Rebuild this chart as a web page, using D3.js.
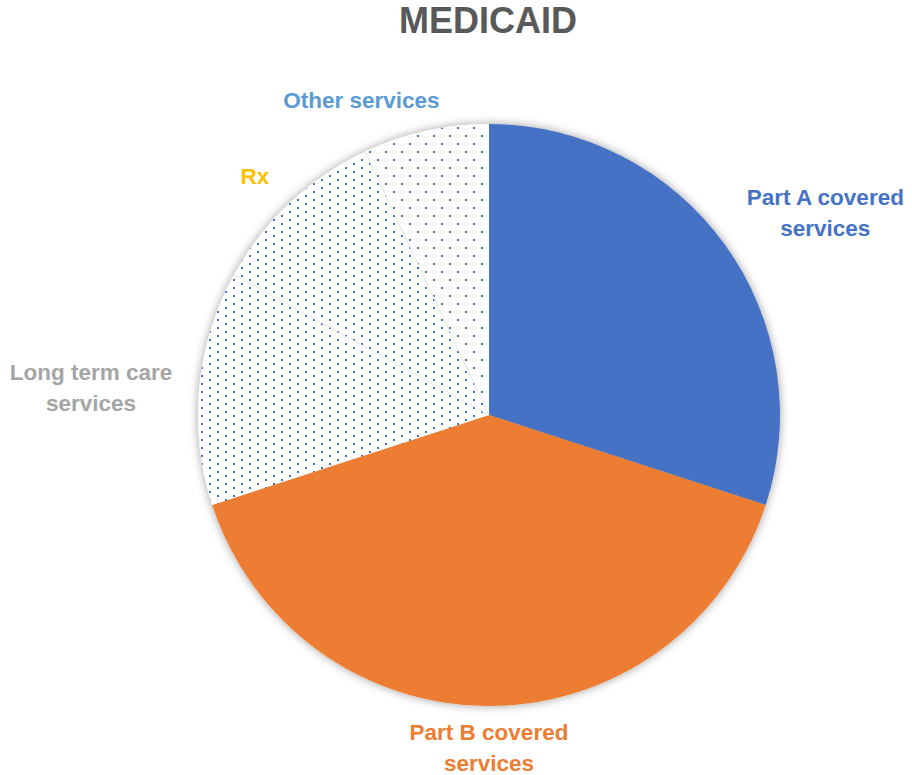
<!DOCTYPE html>
<html>
<head>
<meta charset="utf-8">
<script src="https://cdn.jsdelivr.net/npm/d3@7"></script>
<style>
  html, body { margin: 0; padding: 0; background: #fff; }
  svg { display: block; }
  text { font-family: "Liberation Sans", Arial, sans-serif; font-weight: bold; }
</style>
</head>
<body>
<script>
// Medicaid spending split by service type (percent of total)
const categories = ["Part A covered services", "Part B covered services", "Long term care services", "Rx", "Other services"];
const shares = [30, 40, 13, 10, 7];
const chartTitle = "MEDICAID";

// Fill style per slice: solid colour or a dotted pattern id
const sliceFills = ["#4472C4", "#ED7D31", "url(#dotsDense)", "url(#dotsDense)", "url(#dotsSparse)"];
const labelColors = ["#4472C4", "#ED7D31", "#A5A5A5", "#FFC000", "#5B9BD5"];
// small hand adjustments to the outside-end label boxes
const labelNudge = [[11, 0], [0, 4], [-13, 1], [-11, -9], [-61, -9]];

const W = 912, H = 775;
const cx = 489, cy = 415, radius = 291;
const fontSize = 22.5, lineGap = 31, capH = 16, wrapWidth = 170;

const svg = d3.select("body").append("svg").attr("width", W).attr("height", H);
const defs = svg.append("defs");

// dotted fills
function dotPattern(id, w, h) {
  const p = defs.append("pattern").attr("id", id).attr("patternUnits", "userSpaceOnUse")
    .attr("width", w).attr("height", h);
  p.append("rect").attr("width", w).attr("height", h).attr("fill", "#fff");
  p.append("rect").attr("x", 0).attr("y", 0).attr("width", 2).attr("height", 2).attr("fill", "#4472C4");
  p.append("rect").attr("x", w / 2).attr("y", h / 2).attr("width", 2).attr("height", 2).attr("fill", "#4472C4");
}
dotPattern("dotsDense", 16, 8);
dotPattern("dotsSparse", 16, 16);

const shadow = defs.append("filter").attr("id", "pieShadow")
  .attr("x", "-10%").attr("y", "-10%").attr("width", "120%").attr("height", "120%");
shadow.append("feDropShadow").attr("dx", 0).attr("dy", 0).attr("stdDeviation", 5)
  .attr("flood-color", "#000").attr("flood-opacity", 0.38);

// title
svg.append("text").attr("x", 488).attr("y", 33).attr("text-anchor", "middle")
  .attr("font-size", 36).attr("fill", "#595959").text(chartTitle);

const pie = d3.pie().sort(null).value(d => d).startAngle(0).endAngle(2 * Math.PI);
const arcs = pie(shares);
const arcGen = d3.arc().innerRadius(0).outerRadius(radius);

const g = svg.append("g").attr("transform", `translate(${cx},${cy})`);
const slices = g.append("g").attr("filter", "url(#pieShadow)");
slices.selectAll("path").data(arcs).join("path")
  .attr("d", arcGen)
  .attr("fill", (d, i) => sliceFills[i]);

// faint separators between neighbouring dotted slices
const sepLines = arcs.filter((d, i) => i > 0 && sliceFills[i].startsWith("url") && sliceFills[i - 1].startsWith("url"));
g.selectAll("line.sep").data(sepLines).join("line")
  .attr("class", "sep")
  .attr("x1", 0).attr("y1", 0)
  .attr("x2", d => radius * Math.sin(d.startAngle))
  .attr("y2", d => -radius * Math.cos(d.startAngle))
  .attr("stroke", "#e6e6e6").attr("stroke-width", 1);

// measuring helper for wrapping
const measurer = svg.append("text").attr("font-size", fontSize).attr("visibility", "hidden");
function textWidth(s) { measurer.text(s); return measurer.node().getComputedTextLength(); }
function wrap(label) {
  const words = label.split(" ");
  const lines = [];
  let cur = "";
  words.forEach(w => {
    const t = cur ? cur + " " + w : w;
    if (cur && textWidth(t) > wrapWidth) { lines.push(cur); cur = w; } else cur = t;
  });
  if (cur) lines.push(cur);
  return lines;
}

// outside-end data labels
const labelR = radius + 14;
arcs.forEach((d, i) => {
  const lines = wrap(categories[i]);
  const bw = d3.max(lines, textWidth);
  const bh = capH + lineGap * (lines.length - 1);
  const mid = (d.startAngle + d.endAngle) / 2;
  const s = Math.sin(mid), c = Math.cos(mid);
  const px = cx + labelR * s, py = cy - labelR * c;
  let left;
  if (s > 0.3) left = px; else if (s < -0.3) left = px - bw; else left = px - bw / 2;
  let top;
  if (c > 0.3) top = py - bh; else if (c < -0.3) top = py; else top = py - bh / 2;
  left += labelNudge[i][0];
  top += labelNudge[i][1];
  const t = svg.append("text").attr("font-size", fontSize).attr("fill", labelColors[i])
    .attr("text-anchor", "middle");
  lines.forEach((ln, k) => {
    t.append("tspan").attr("x", left + bw / 2).attr("y", top + capH + k * lineGap).text(ln);
  });
});
measurer.remove();
</script>
</body>
</html>
